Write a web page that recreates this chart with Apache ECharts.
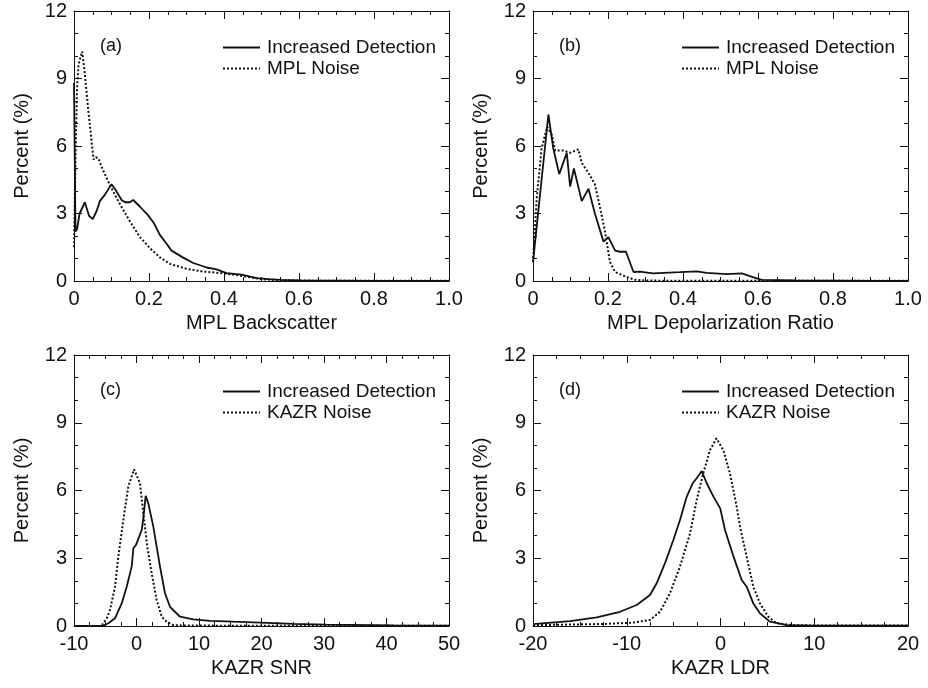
<!DOCTYPE html>
<html>
<head>
<meta charset="utf-8">
<script src="https://cdn.jsdelivr.net/npm/echarts@6/dist/echarts.min.js"></script>
<style>
  html, body { margin: 0; padding: 0; background: #fff; }
  #main { width: 928px; height: 688px; }
</style>
</head>
<body>
<div id="main"></div>
<script>
// (a) MPL backscatter
const aIncX = [0, 0.004, 0.008, 0.015, 0.029, 0.04, 0.05, 0.06, 0.069, 0.083, 0.1, 0.109, 0.127, 0.136, 0.149, 0.158, 0.176, 0.196, 0.212, 0.229, 0.245, 0.26, 0.29, 0.318, 0.354, 0.38, 0.407, 0.447, 0.487, 0.52, 0.55, 0.6, 0.7, 0.8, 0.9, 1.0];
const aIncY = [8.8, 2.2, 2.3, 3.0, 3.5, 2.9, 2.75, 3.1, 3.55, 3.85, 4.3, 4.1, 3.6, 3.5, 3.5, 3.6, 3.3, 2.95, 2.6, 2.05, 1.7, 1.35, 1.05, 0.8, 0.6, 0.52, 0.35, 0.28, 0.13, 0.08, 0.05, 0.03, 0.02, 0.01, 0.01, 0.01];
const aNoiseX = [0, 0.004, 0.008, 0.012, 0.018, 0.022, 0.029, 0.038, 0.052, 0.058, 0.065, 0.078, 0.096, 0.123, 0.149, 0.176, 0.203, 0.229, 0.256, 0.3, 0.345, 0.398, 0.451, 0.5, 0.55, 0.6, 0.7, 0.8, 0.9, 1.0];
const aNoiseY = [1.5, 5.5, 8.5, 9.6, 10.0, 10.2, 9.2, 7.6, 5.4, 5.5, 5.45, 4.9, 4.25, 3.4, 2.65, 1.95, 1.45, 1.05, 0.76, 0.54, 0.42, 0.34, 0.22, 0.08, 0.03, 0.02, 0.01, 0.01, 0.01, 0.01];

// (b) MPL depolarization ratio
const bIncX = [0, 0.041, 0.054, 0.07, 0.09, 0.099, 0.109, 0.13, 0.148, 0.165, 0.188, 0.201, 0.219, 0.232, 0.248, 0.268, 0.285, 0.32, 0.392, 0.437, 0.463, 0.517, 0.557, 0.588, 0.61, 0.7, 0.8, 0.9, 1.0];
const bIncY = [0.84, 7.4, 5.9, 4.75, 5.7, 4.2, 5.0, 3.55, 4.1, 3.0, 1.75, 1.95, 1.35, 1.3, 1.3, 0.4, 0.42, 0.34, 0.39, 0.43, 0.36, 0.31, 0.34, 0.16, 0.05, 0.03, 0.02, 0.01, 0.01];
const bNoiseX = [0, 0.01, 0.023, 0.038, 0.05, 0.059, 0.081, 0.099, 0.121, 0.13, 0.148, 0.165, 0.179, 0.192, 0.198, 0.205, 0.219, 0.241, 0.27, 0.3, 0.4, 0.6, 0.8, 1.0];
const bNoiseY = [0.84, 3.7, 5.9, 6.85, 6.5, 5.8, 5.8, 5.7, 5.85, 5.25, 4.8, 4.3, 3.25, 2.2, 1.6, 0.85, 0.4, 0.24, 0.06, 0.02, 0.01, 0.01, 0.01, 0.01];

// (c) KAZR SNR
const cIncX = [-10, -6, -5.3, -4.5, -3.44, -2.37, -1.57, -0.77, -0.5, -0.4, -0.08, 0.83, 1.09, 1.47, 1.89, 2.69, 3.76, 4.56, 5.36, 6.96, 9.1, 11.76, 15.5, 19.8, 25.1, 30.4, 41.1, 50];
const cIncY = [0, 0, 0.02, 0.12, 0.34, 1.0, 1.74, 2.63, 3.44, 3.51, 3.59, 4.25, 4.77, 5.76, 5.43, 4.4, 2.63, 1.45, 0.85, 0.41, 0.29, 0.23, 0.19, 0.15, 0.09, 0.06, 0.03, 0.02];
const cNoiseX = [-10, -6, -5.5, -4.77, -4.24, -3.44, -2.91, -2.11, -1.31, -0.4, 0.56, 1.09, 1.73, 2.43, 3.23, 4.03, 4.83, 5.9, 8, 20, 35, 50];
const cNoiseY = [0, 0, 0.05, 0.34, 0.71, 1.74, 3.07, 4.69, 6.17, 6.94, 6.32, 4.99, 3.51, 2.33, 1.15, 0.41, 0.19, 0.04, 0.02, 0.01, 0.01, 0.01];

// (d) KAZR LDR
const dIncX = [-20, -19.8, -16.05, -13.2, -10.72, -8.94, -7.52, -6.81, -5.92, -5.03, -4.32, -3.6, -2.97, -2.54, -2.0, -1.47, -0.75, -0.03, 0.48, 1.39, 2.26, 2.79, 3.5, 4.21, 5.28, 7.06, 10, 15, 20];
const dIncY = [0.08, 0.09, 0.22, 0.38, 0.63, 0.93, 1.37, 1.89, 2.78, 3.81, 4.69, 5.73, 6.32, 6.54, 6.86, 6.32, 5.73, 5.21, 4.25, 3.07, 2.04, 1.74, 1.0, 0.56, 0.19, 0.04, 0.01, 0.01, 0.01];
const dNoiseX = [-20, -18, -12.5, -9.3, -7.52, -6.45, -5.39, -4.32, -3.25, -2.54, -1.84, -1.12, -0.43, 0.3, 1.01, 1.73, 2.08, 2.79, 3.5, 4.21, 5.1, 5.99, 8, 14, 20];
const dNoiseY = [0.03, 0.05, 0.09, 0.15, 0.27, 0.63, 1.45, 2.63, 4.1, 5.58, 6.76, 7.79, 8.31, 7.79, 6.76, 5.28, 4.4, 3.07, 1.74, 1.0, 0.41, 0.12, 0.03, 0.02, 0.02];

const panelLabels = ['(a)', '(b)', '(c)', '(d)'];
const xNames = ['MPL Backscatter', 'MPL Depolarization Ratio', 'KAZR SNR', 'KAZR LDR'];
const xRanges = [[0, 1, 0.2], [0, 1, 0.2], [-10, 50, 10], [-20, 20, 10]];
const incName = 'Increased Detection';
const noiseNames = ['MPL Noise', 'MPL Noise', 'KAZR Noise', 'KAZR Noise'];

const zip = (xs, ys) => xs.map((x, i) => [x, ys[i]]);
const incData = [zip(aIncX, aIncY), zip(bIncX, bIncY), zip(cIncX, cIncY), zip(dIncX, dIncY)];
const noiseData = [zip(aNoiseX, aNoiseY), zip(bNoiseX, bNoiseY), zip(cNoiseX, cNoiseY), zip(dNoiseX, dNoiseY)];

const FONT = '"Liberation Sans", Arial, Helvetica, sans-serif';
const INK = '#111';
const grids = [
    { left: 74, top: 11, width: 375, height: 270 },
    { left: 533, top: 11, width: 375, height: 270 },
    { left: 74, top: 355, width: 375, height: 271 },
    { left: 533, top: 355, width: 375, height: 271 }
];

let xAxes = [], yAxes = [], series = [], titles = [], legends = [];

for (let i = 0; i < 4; i++) {
    let [mn, mx, step] = xRanges[i];
    let tickCommon = {
        axisLine: { show: true, onZero: false, lineStyle: { color: INK, width: 1 } },
        axisTick: { show: true, inside: true, length: 8, lineStyle: { color: INK } },
        minorTick: { show: true, splitNumber: 4, length: 4, lineStyle: { color: INK } },
        splitLine: { show: false },
        minorSplitLine: { show: false }
    };
    // bottom x axis
    xAxes.push(Object.assign({
        type: 'value', gridIndex: i, position: 'bottom', min: mn, max: mx, interval: step,
        name: xNames[i], nameLocation: 'middle', nameGap: 32,
        nameTextStyle: { fontFamily: FONT, fontSize: 20, color: INK },
        axisLabel: {
            margin: 8, fontFamily: FONT, fontSize: 20, color: INK,
            formatter: v => (step < 1 && v !== 0) ? v.toFixed(1) : String(v)
        }
    }, tickCommon));
    // top mirror
    xAxes.push(Object.assign({
        type: 'value', gridIndex: i, position: 'top', min: mn, max: mx, interval: step,
        axisLabel: { show: false }
    }, tickCommon));
    let yCommon = Object.assign({}, tickCommon, {
        minorTick: { show: true, splitNumber: 3, length: 4, lineStyle: { color: INK } }
    });
    yAxes.push(Object.assign({
        type: 'value', gridIndex: i, position: 'left', min: 0, max: 12, interval: 3,
        name: 'Percent (%)', nameLocation: 'middle', nameGap: 42,
        nameTextStyle: { fontFamily: FONT, fontSize: 20, color: INK },
        axisLabel: { margin: 7, fontFamily: FONT, fontSize: 20, color: INK, padding: [0, 0, 8, 0] }
    }, yCommon));
    yAxes.push(Object.assign({
        type: 'value', gridIndex: i, position: 'right', min: 0, max: 12, interval: 3,
        axisLabel: { show: false }
    }, yCommon));

    series.push({
        name: incName, type: 'line', xAxisIndex: 2 * i, yAxisIndex: 2 * i,
        data: incData[i], symbol: 'none', smooth: false,
        lineStyle: { color: INK, width: 1.8, type: 'solid' }, itemStyle: { color: INK }
    });
    series.push({
        name: noiseNames[i], type: 'line', xAxisIndex: 2 * i, yAxisIndex: 2 * i,
        data: noiseData[i], symbol: 'none', smooth: false,
        lineStyle: { color: INK, width: 2, type: [2, 2] }, itemStyle: { color: INK }
    });

    let g = grids[i];
    titles.push({
        text: panelLabels[i], left: g.left + 21, top: g.top + 21,
        textStyle: { fontFamily: FONT, fontSize: 18, fontWeight: 'normal', color: INK }
    });
    legends.push({
        orient: 'vertical', left: g.left + 143, top: g.top + 22,
        data: [incName, noiseNames[i]], itemWidth: 37, itemHeight: 14, itemGap: 2,
        icon: 'inherit', itemStyle: { opacity: 0 },
        selectedMode: false,
        textStyle: { fontFamily: FONT, fontSize: 19, color: INK, padding: [0, 0, 0, 2] }
    });
}

let chart = echarts.init(document.getElementById('main'), null, { renderer: 'canvas' });
chart.setOption({
    backgroundColor: '#fff',
    animation: false,
    title: titles,
    legend: legends,
    grid: grids,
    xAxis: xAxes,
    yAxis: yAxes,
    series: series
});
</script>
</body>
</html>
